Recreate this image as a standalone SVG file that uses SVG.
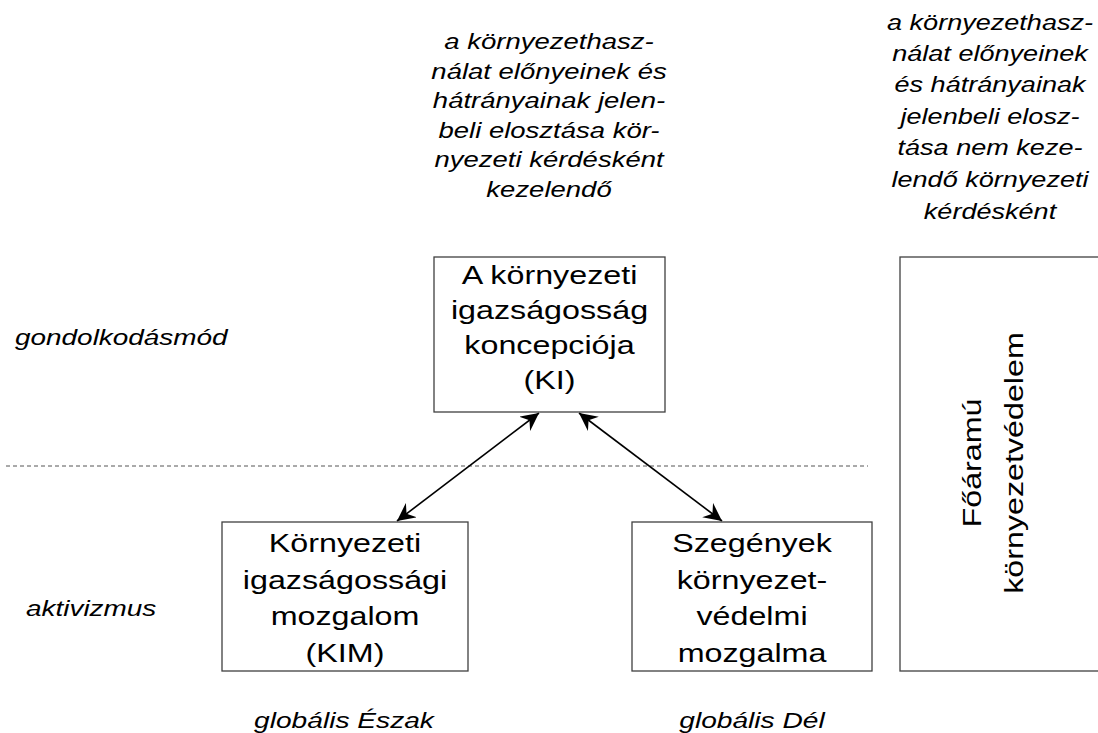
<svg xmlns="http://www.w3.org/2000/svg" width="1098" height="733" viewBox="0 0 1098 733">
<style>
.box{fill:#fff;stroke:#404040;stroke-width:1.3}
.bt{font-family:"Liberation Sans",Arial,sans-serif;font-size:25px;fill:#000;text-anchor:middle}
.it{font-family:"Liberation Sans",Arial,sans-serif;font-size:22px;font-style:italic;fill:#000}
.c{text-anchor:middle}
.conn{stroke:#000;stroke-width:1.6;fill:none}
</style>
<defs>
<marker id="ah" markerUnits="userSpaceOnUse" markerWidth="20" markerHeight="18" refX="18" refY="9" orient="auto-start-reverse">
<path d="M0,0 L18,9 L0,18 L6,9 z" fill="#000"/>
</marker>
</defs>
<rect width="1098" height="733" fill="#fff"/>
<line x1="6" y1="466" x2="868" y2="466" stroke="#555" stroke-width="1" stroke-dasharray="4,3"/>
<g id="labels">
<text class="it c" transform="translate(549,0) scale(1.25,1)"><tspan x="0" y="49">a környezethasz-</tspan><tspan x="0" y="79">nálat előnyeinek és</tspan><tspan x="0" y="108">hátrányainak jelen-</tspan><tspan x="0" y="138">beli elosztása kör-</tspan><tspan x="0" y="167">nyezeti kérdésként</tspan><tspan x="0" y="197">kezelendő</tspan></text>
<text class="it c" transform="translate(990,0) scale(1.23,1)"><tspan x="0" y="30">a környezethasz-</tspan><tspan x="0" y="61">nálat előnyeinek</tspan><tspan x="0" y="92">és hátrányainak</tspan><tspan x="0" y="124">jelenbeli elosz-</tspan><tspan x="0" y="155">tása nem keze-</tspan><tspan x="0" y="187">lendő környezeti</tspan><tspan x="0" y="219">kérdésként</tspan></text>
<text class="it" transform="translate(15,0) scale(1.27,1)" x="0" y="345">gondolkodásmód</text>
<text class="it" transform="translate(26,0) scale(1.27,1)" x="0" y="616">aktivizmus</text>
<text class="it c" transform="translate(344,0) scale(1.28,1)" x="0" y="728">globális Észak</text>
<text class="it c" transform="translate(752,0) scale(1.28,1)" x="0" y="728">globális Dél</text>
</g>
<g id="connectors">
<line class="conn" x1="397" y1="521" x2="539" y2="413" marker-start="url(#ah)" marker-end="url(#ah)"/>
<line class="conn" x1="579" y1="413" x2="722" y2="521" marker-start="url(#ah)" marker-end="url(#ah)"/>
</g>
<g id="node-ki">
<rect class="box" x="434" y="257" width="231" height="155"/>
<text class="bt" transform="translate(549.5,0) scale(1.29,1)"><tspan x="0" y="284">A környezeti</tspan><tspan x="0" y="319">igazságosság</tspan><tspan x="0" y="354">koncepciója</tspan><tspan x="0" y="389">(KI)</tspan></text>
</g>
<g id="node-kim">
<rect class="box" x="222" y="522" width="246" height="149"/>
<text class="bt" transform="translate(345,0) scale(1.29,1)"><tspan x="0" y="552">Környezeti</tspan><tspan x="0" y="589">igazságossági</tspan><tspan x="0" y="625">mozgalom</tspan><tspan x="0" y="662">(KIM)</tspan></text>
</g>
<g id="node-szegeny">
<rect class="box" x="632" y="522" width="240" height="149"/>
<text class="bt" transform="translate(752,0) scale(1.29,1)"><tspan x="0" y="552">Szegények</tspan><tspan x="0" y="589">környezet-</tspan><tspan x="0" y="625">védelmi</tspan><tspan x="0" y="662">mozgalma</tspan></text>
</g>
<g id="node-foaramu">
<rect class="box" x="900" y="257" width="230" height="414"/>
<text class="bt" transform="translate(0,463) rotate(-90) scale(1.29,1)"><tspan x="0" y="981">Főáramú</tspan><tspan x="0" y="1023">környezetvédelem</tspan></text>
</g>
</svg>
